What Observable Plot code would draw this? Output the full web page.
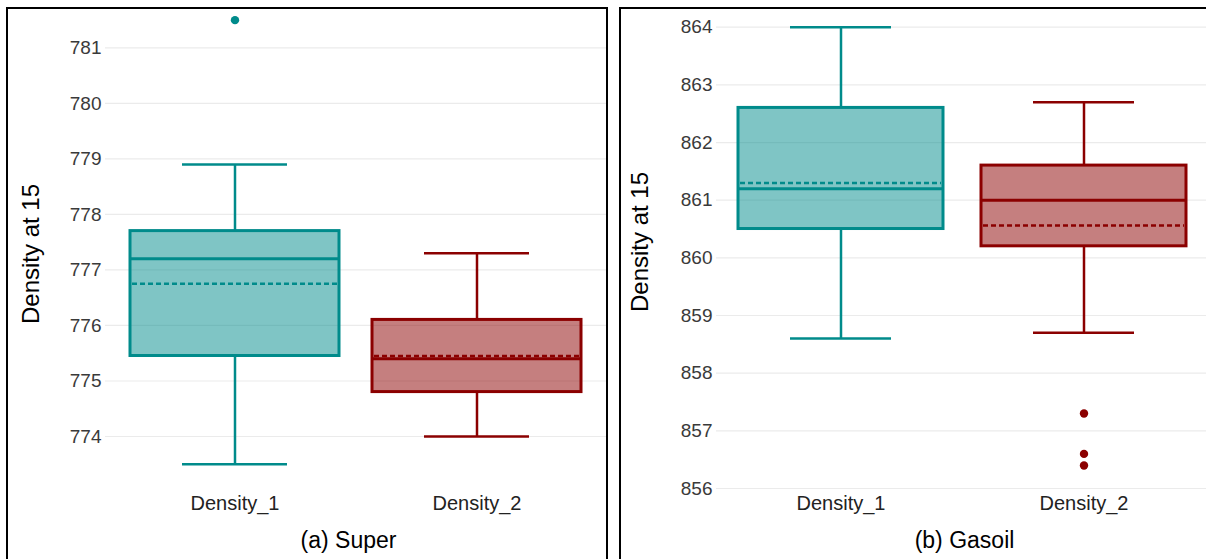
<!DOCTYPE html>
<html>
<head>
<meta charset="utf-8">
<script src="https://cdn.jsdelivr.net/npm/d3@7"></script>
<script src="https://cdn.jsdelivr.net/npm/@observablehq/plot@0.6"></script>
<style>
  html, body { margin: 0; padding: 0; background: #fff; width: 1206px; height: 559px; overflow: hidden; }
  #root { position: relative; width: 1206px; height: 559px; }
  .panel { position: absolute; top: 0; }
  .frame { position: absolute; border: 2px solid #000; box-sizing: border-box; pointer-events: none; }
</style>
</head>
<body>
<div id="root">
  <div id="pa" class="panel" style="left:0px"></div>
  <div id="pb" class="panel" style="left:618px"></div>
  <div class="frame" style="left:6px; top:7px; width:602px; height:570px;"></div>
  <div class="frame" style="left:619px; top:7px; width:600px; height:570px;"></div>
</div>
<script>
// ---- data ----
const categories = ["Density_1", "Density_2"];
const seriesColors = ["#008B8B", "#8B0000"];
const yTitle = "Density at 15";

// (a) Super
const superCaption = "(a) Super";
const superTicks = [774, 775, 776, 777, 778, 779, 780, 781];
const superLow    = [773.5, 774.0];
const superQ1     = [775.45, 774.8];
const superMedian = [777.2, 775.4];
const superMean   = [776.75, 775.45];
const superQ3     = [777.7, 776.1];
const superHigh   = [778.9, 777.3];
const superOutlierCat = ["Density_1"];
const superOutlierVal = [781.5];

// (b) Gasoil
const gasoilCaption = "(b) Gasoil";
const gasoilTicks = [856, 857, 858, 859, 860, 861, 862, 863, 864];
const gasoilLow    = [858.6, 858.7];
const gasoilQ1     = [860.5, 860.2];
const gasoilMedian = [861.2, 861.0];
const gasoilMean   = [861.3, 860.56];
const gasoilQ3     = [862.6, 861.6];
const gasoilHigh   = [864.0, 862.7];
const gasoilOutlierCat = ["Density_2", "Density_2", "Density_2"];
const gasoilOutlierVal = [857.3, 856.6, 856.4];

function buildRows(low, q1, med, mean, q3, high) {
  return categories.map((c, i) => ({cat: c, low: low[i], q1: q1[i], med: med[i], mean: mean[i], q3: q3[i], high: high[i]}));
}

function panel(opts) {
  const rows = buildRows(...opts.stats);
  const outliers = opts.outCat.map((c, i) => ({cat: c, v: opts.outVal[i]}));
  const capInset = opts.capInset;
  const font = "'Liberation Sans', Arial, sans-serif";
  return Plot.plot({
    width: opts.width,
    height: 559,
    marginLeft: opts.marginLeft,
    marginRight: 0,
    marginTop: 0,
    marginBottom: 64,
    style: {fontFamily: font, background: "transparent", color: "#000"},
    x: {type: "band", domain: categories, range: opts.xRange, paddingInner: opts.paddingInner, paddingOuter: 0, label: null},
    y: {domain: opts.yDomain, range: opts.yRange, label: null},
    color: {domain: categories, range: seriesColors},
    marks: [
      Plot.gridY({ticks: opts.ticks, stroke: "#ebebeb", strokeOpacity: 1, strokeWidth: 1.2}),
      Plot.axisY({ticks: opts.ticks, tickFormat: "d", tickSize: 0, tickPadding: 4, fontSize: 19, fill: "#3a3a3a", label: null}),
      Plot.axisX({tickSize: 0, tickPadding: 0, fontSize: 20, fill: "#222", label: null}),
      // whiskers
      Plot.ruleX(rows, {x: "cat", y1: "low", y2: "q1", stroke: "cat", strokeWidth: 2.5}),
      Plot.ruleX(rows, {x: "cat", y1: "q3", y2: "high", stroke: "cat", strokeWidth: 2.5}),
      Plot.tickY(rows, {x: "cat", y: "low", stroke: "cat", strokeWidth: 2.5, insetLeft: capInset, insetRight: capInset}),
      Plot.tickY(rows, {x: "cat", y: "high", stroke: "cat", strokeWidth: 2.5, insetLeft: capInset, insetRight: capInset}),
      // box
      Plot.barY(rows, {x: "cat", y1: "q1", y2: "q3", fill: "cat", fillOpacity: 0.5, stroke: "cat", strokeWidth: 3}),
      // median & mean
      Plot.tickY(rows, {x: "cat", y: "med", stroke: "cat", strokeWidth: 3}),
      Plot.tickY(rows, {x: "cat", y: "mean", stroke: "cat", strokeWidth: 2.5, strokeDasharray: "5,3", insetLeft: 2, insetRight: 2}),
      // outliers
      Plot.dot(outliers, {x: "cat", y: "v", fill: "cat", r: 4.2, stroke: null}),
      // titles
      Plot.text([yTitle], {frameAnchor: "left", rotate: -90, textAnchor: "middle", lineAnchor: "middle", dx: opts.titleDx, dy: opts.titleDy, fontSize: 24, fill: "#000"}),
      Plot.text([opts.caption], {frameAnchor: "bottom", textAnchor: "middle", lineAnchor: "middle", dx: opts.capDx, dy: 45, fontSize: 23, fill: "#000"})
    ]
  });
}

const a = panel({
  width: 607, marginLeft: 105,
  xRange: [130.4, 581.4], paddingInner: 0.1364, capInset: 52,
  yDomain: [774, 781], yRange: [436, 47.4], ticks: superTicks,
  stats: [superLow, superQ1, superMedian, superMean, superQ3, superHigh],
  outCat: superOutlierCat, outVal: superOutlierVal,
  caption: superCaption, titleDx: -74, titleDy: 6, capDx: -8
});
document.getElementById("pa").appendChild(a);

const b = panel({
  width: 588, marginLeft: 98,
  xRange: [119, 569], paddingInner: 0.1557, capInset: 52,
  yDomain: [856, 864], yRange: [488, 26.7], ticks: gasoilTicks,
  stats: [gasoilLow, gasoilQ1, gasoilMedian, gasoilMean, gasoilQ3, gasoilHigh],
  outCat: gasoilOutlierCat, outVal: gasoilOutlierVal,
  caption: gasoilCaption, titleDx: -76, titleDy: -6, capDx: 3
});
document.getElementById("pb").appendChild(b);
</script>
</body>
</html>
